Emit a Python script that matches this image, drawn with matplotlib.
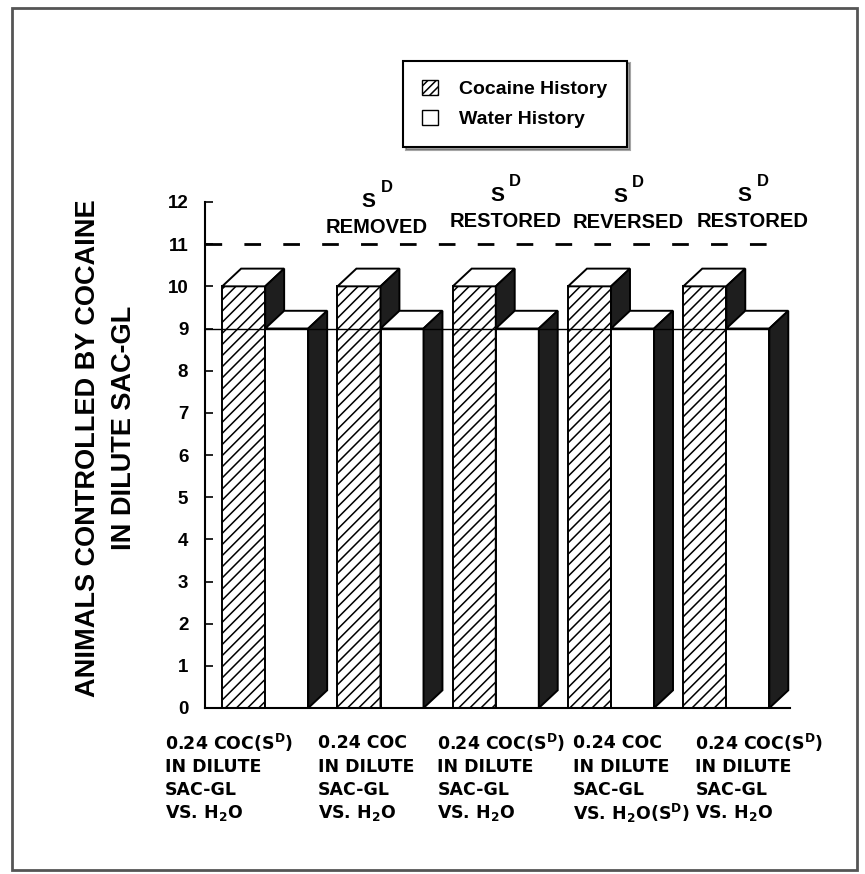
import matplotlib.pyplot as plt
from matplotlib.patches import Polygon, Patch, Rectangle

# data
conditions = [
    ["0.24 COC(S$^\\mathbf{D}$)", "IN DILUTE", "SAC-GL", "VS. H$_\\mathbf{2}$O"],
    ["0.24 COC", "IN DILUTE", "SAC-GL", "VS. H$_\\mathbf{2}$O"],
    ["0.24 COC(S$^\\mathbf{D}$)", "IN DILUTE", "SAC-GL", "VS. H$_\\mathbf{2}$O"],
    ["0.24 COC", "IN DILUTE", "SAC-GL", "VS. H$_\\mathbf{2}$O(S$^\\mathbf{D}$)"],
    ["0.24 COC(S$^\\mathbf{D}$)", "IN DILUTE", "SAC-GL", "VS. H$_\\mathbf{2}$O"],
]
phase_labels = ["", "REMOVED", "RESTORED", "REVERSED", "RESTORED"]
cocaine_history = [10, 10, 10, 10, 10]
water_history = [9, 9, 9, 9, 9]
yticks = list(range(0, 13))

W, H = 865, 874
PX_Y = 42.17  # pixels per y unit
fig = plt.figure(figsize=(W / 100, H / 100), dpi=100)
ax = fig.add_axes([205 / W, 166 / H, 585 / W, 506 / H])
ax.set_xlim(0, 13.6)
ax.set_ylim(0, 12)

BW = 1.0              # bar width
DX, DY = 0.44, 0.42   # depth of the 3-D box
X0, STEP = 0.4, 2.68


def box(ax, x, h, hatch=None):
    front = Rectangle((x, 0), BW, h, facecolor="white", edgecolor="black",
                      hatch=hatch, lw=1.4, zorder=2)
    top = Polygon([(x, h), (x + BW, h), (x + BW + DX, h + DY), (x + DX, h + DY)],
                  closed=True, facecolor="white", edgecolor="black", lw=1.4, zorder=2)
    side = Polygon([(x + BW, 0), (x + BW, h), (x + BW + DX, h + DY), (x + BW + DX, DY)],
                   closed=True, facecolor="#1e1e1e", edgecolor="black", lw=1.4, zorder=2)
    for p in (front, top, side):
        ax.add_patch(p)


plt.rcParams["hatch.linewidth"] = 1.1
for i, (c, w) in enumerate(zip(cocaine_history, water_history)):
    x = X0 + i * STEP
    box(ax, x, c, hatch="///")
    box(ax, x + BW, w)

last_right = X0 + 4 * STEP + 2 * BW
ax.plot([0, last_right + DX], [11, 11], color="black", lw=2, ls=(0, (6, 8)), zorder=1)
ax.plot([0, last_right], [9, 9], color="black", lw=1.0, zorder=3)

ax.spines["top"].set_visible(False)
ax.spines["right"].set_visible(False)
ax.spines["left"].set_linewidth(1.5)
ax.spines["bottom"].set_linewidth(1.5)
ax.set_xticks([])
ax.set_yticks(yticks)
ax.tick_params(axis="y", direction="in", length=6, width=1.2, pad=12)
for lab in ax.get_yticklabels():
    lab.set_fontfamily("Liberation Sans")
    lab.set_fontweight("bold")
    lab.set_fontsize(13.5)

# phase labels above the groups
label_x = [None, 4.0, 6.98, 9.84, 12.74]
label_py = [None, 227, 221, 222, 221]
for lx, py, txt in zip(label_x, label_py, phase_labels):
    if not txt:
        continue
    ly = (708 - py) / PX_Y
    ax.text(lx, ly, txt, ha="center", va="center", fontsize=14.5, fontweight="bold",
            family="Liberation Sans", clip_on=False)
    ax.text(lx - 0.19, ly + 26 / PX_Y, "S", ha="center", va="center", fontsize=15,
            fontweight="bold", family="Liberation Sans", clip_on=False)
    ax.text(lx + 0.23, ly + 40 / PX_Y, "D", ha="center", va="center", fontsize=12,
            fontweight="bold", family="Liberation Sans", clip_on=False)

# condition labels under the groups
cond_x = [-0.93, 2.63, 5.40, 8.56, 11.40]
line_px = [743, 767, 790, 813]
for cx, lines in zip(cond_x, conditions):
    for ln, py in zip(lines, line_px):
        ax.text(cx, (708 - py) / PX_Y, ln, ha="left", va="center", fontsize=12.5,
                fontweight="bold", family="DejaVu Sans", clip_on=False)

fig.text(88 / W, 1 - 448 / H, "ANIMALS CONTROLLED BY COCAINE", rotation=90,
         ha="center", va="center", fontsize=19.5, fontweight="bold",
         family="Liberation Sans")
fig.text(124 / W, 1 - 428 / H, "IN DILUTE SAC-GL", rotation=90,
         ha="center", va="center", fontsize=19.5, fontweight="bold",
         family="Liberation Sans")

handles = [Patch(facecolor="white", edgecolor="black", hatch="////"),
           Patch(facecolor="white", edgecolor="black")]
leg = fig.legend(handles, ["Cocaine History", "Water History"],
                 loc="center", bbox_to_anchor=(515 / W, 1 - 104 / H),
                 frameon=True, fancybox=False, shadow=True, edgecolor="black",
                 handlelength=0.8, handleheight=0.8, borderpad=1.0,
                 labelspacing=0.6, handletextpad=1.1, borderaxespad=0,
                 prop={"family": "Liberation Sans", "weight": "bold", "size": 14})
leg.get_frame().set_linewidth(1.5)

# outer frame around the whole figure
fig.patches.append(Rectangle((12 / W, 1 - 870 / H), 845 / W, 862 / H,
                             transform=fig.transFigure, fill=False,
                             edgecolor="#555555", lw=2))

fig.savefig("out.png", dpi=100)
